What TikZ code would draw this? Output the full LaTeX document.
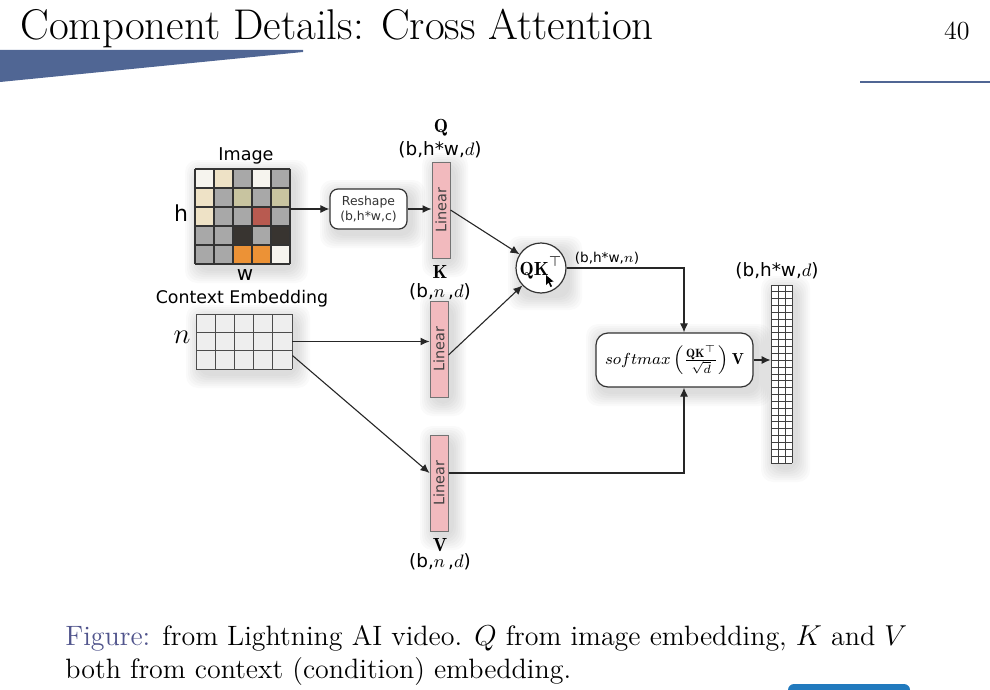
\documentclass[tikz,border=0pt]{standalone}
\usepackage{fontspec}
\usepackage{amsmath}
\usepackage{graphicx}
\newfontfamily\dv{DejaVu Sans}
\usetikzlibrary{arrows.meta,calc}
\definecolor{deco}{RGB}{80,102,148}
\definecolor{btnblue}{RGB}{33,122,190}
\definecolor{figblue}{RGB}{80,84,140}
\definecolor{linpink}{RGB}{242,186,190}
\definecolor{cW}{RGB}{246,244,238}
\definecolor{cB}{RGB}{238,226,198}
\definecolor{cG}{RGB}{168,168,168}
\definecolor{cO}{RGB}{200,196,160}
\definecolor{cR}{RGB}{184,90,80}
\definecolor{cD}{RGB}{56,52,48}
\definecolor{cA}{RGB}{236,146,54}
\definecolor{ctxfill}{RGB}{238,238,238}
\newcommand{\softshade}[4]{%
  \foreach \e in {2,4,...,14}{
    \fill[black, opacity=0.018, rounded corners=6pt] (#1+4-\e,#2+5-\e) rectangle (#3+4+\e,#4+5+\e);
  }}
\begin{document}
\begin{tikzpicture}[x=0.5pt,y=-0.5pt,
  >={Latex[length=4.5pt,width=4pt]},
  sans/.style={font={\dv\fontsize{#1pt}{#1pt}\selectfont}, inner sep=0},
  serif/.style={font={\fontsize{#1pt}{#1pt}\selectfont}, inner sep=0},
  conn/.style={->, line width=0.55pt, black!85},
  lin/.style={draw=black!55, line width=0.5pt, fill=linpink, minimum width=9pt, minimum height=48pt, inner sep=0, text=black!75, font={\dv\fontsize{7.2pt}{7.2pt}\selectfont}},
  box/.style={draw=black!80, line width=0.6pt, fill=white, rounded corners=#1, inner sep=0}
]
\useasboundingbox (0,0) rectangle (990,690);

% ---- slide decoration ----
\fill[deco] (0,50) -- (303,50) -- (303,52) -- (0,82) -- cycle;
\fill[deco] (860,81) rectangle (990,83);
\fill[btnblue, rounded corners=3pt] (788,684) rectangle (910,700);
\node[serif=21.5, anchor=base west] (title) at (20,40) {Component Details: Cross Attention};
\node[serif=13, anchor=base east] (pnum) at (970,40) {40};

% ---- soft shadows ----
\softshade{195}{169}{290}{264}
\softshade{196}{314}{292}{369}
\softshade{330}{189}{407}{229}
\softshade{596}{333}{753}{387}
\softshade{432}{162}{450}{258}
\softshade{430}{301}{448}{397}
\softshade{430}{435}{448}{531}
\softshade{771}{285}{792}{463}
\softshade{518}{245}{564}{291}

% ---- image grid ----
\node[minimum width=47.5pt, minimum height=47.5pt, inner sep=0] (img) at (242.5,216.5) {};
\foreach \row [count=\r from 0] in {{cW,cB,cG,cW,cG},{cB,cG,cO,cG,cO},{cB,cG,cG,cR,cG},{cG,cG,cD,cG,cD},{cG,cG,cA,cA,cW}}{
  \foreach \c [count=\i from 0] in \row {
    \fill[\c] (195+\i*19,169+\r*19) rectangle ++(19,19);
  }
}
\foreach \k in {0,...,5}{
  \draw[line width=0.8pt, black!80] (195+\k*19,169) -- ++(0,95);
  \draw[line width=0.8pt, black!80] (195,169+\k*19) -- ++(95,0);
}
\node[sans=8.8] (imglbl) at (246,156) {Image};
\node[sans=11] (hlbl) at (181,213) {h};
\node[sans=10] (wlbl) at (245,275) {w};

% ---- context embedding grid ----
\node[minimum width=48pt, minimum height=27.5pt, inner sep=0] (ctx) at (244,341.5) {};
\fill[ctxfill] (196,314) rectangle (292,369);
\foreach \k in {0,...,5}{
  \draw[line width=0.5pt, black!70] (196+\k*19.2,314) -- ++(0,55);
}
\foreach \k in {0,...,3}{
  \draw[line width=0.5pt, black!70] (196,314+\k*18.333) -- ++(96,0);
}
\node[sans=8.7] (ctxlbl) at (242,299) {Context Embedding};
\node[serif=14] (nlbl) at (182,337) {$n$};

% ---- reshape ----
\node[box=4pt, minimum width=38.5pt, minimum height=20pt, align=center, font={\dv\fontsize{6.2pt}{7.6pt}\selectfont}, text=black!80] (reshape) at (368.5,209) {Reshape\\(b,h*w,c)};

% ---- linear layers ----
\node[lin] (lq) at (441,210) {\rotatebox{90}{Linear}};
\node[lin] (lk) at (439,349) {\rotatebox{90}{Linear}};
\node[lin] (lv) at (439,483) {\rotatebox{90}{Linear}};

\node[serif=9.5] (qlbl) at (441,128) {$\mathbf{Q}$};
\node[sans=9.2] (qdim) at (440,150) {(b,h*w,$d$)};
\node[serif=9.5] (klbl) at (440,272) {$\mathbf{K}$};
\node[sans=9.2] (kdim) at (440,292) {(b,$n$\,,$d$)};
\node[serif=9.5] (vlbl) at (440,545) {$\mathbf{V}$};
\node[sans=9.2] (vdim) at (440,562) {(b,$n$\,,$d$)};

% ---- QK^T circle ----
\node[draw=black!80, line width=0.6pt, fill=white, circle, minimum size=25pt, inner sep=0, font={\fontsize{9.5pt}{9.5pt}\selectfont}] (circ) at (541,268) {$\mathbf{QK}^{\top}$};
\fill[black] (546,275) -- (546,285) -- (548.5,282.5) -- (550.5,287) -- (552,286.3) -- (550,282) -- (553.5,281.5) -- cycle;
\node[sans=6.8] (sdim) at (607,258) {(b,h*w,$n$)};

% ---- softmax box ----
\node[box=6pt, minimum width=78.5pt, minimum height=27pt, font={\fontsize{8pt}{8pt}\selectfont}] (smax) at (674.5,360) {$softmax\left(\frac{\mathbf{QK}^{\top}}{\sqrt{d}}\right)\mathbf{V}$};

% ---- output grid ----
\node[minimum width=10.5pt, minimum height=89pt, inner sep=0] (out) at (781.5,374) {};
\fill[white] (771,285) rectangle (792,463);
\foreach \k in {0,...,3}{
  \draw[line width=0.45pt, black!75] (771+\k*7,285) -- ++(0,178);
}
\foreach \k in {0,...,26}{
  \draw[line width=0.45pt, black!75] (771,285+\k*6.846) -- ++(21,0);
}
\node[sans=9.2] (odim) at (777,271) {(b,h*w,$d$)};

% ---- connectors ----
\draw[conn] (reshape.west -| img.east) -- (reshape.west);
\draw[conn] (reshape.east) -- (reshape.east -| lq.west);
\draw[conn] (lq.east) -- (circ);
\draw[conn] ([yshift=-3pt]lk.east) -- (circ);
\draw[conn] (ctx.east) -- (ctx.east -| lk.west);
\draw[conn] ([yshift=-7pt]ctx.east) -- ([yshift=5pt]lv.west);
\draw[conn] (circ.east) -| ($(smax.north)+(9.5,0)$);
\draw[conn] ([yshift=5pt]lv.east) -| ($(smax.south)+(9.5,0)$);
\draw[conn] (smax.east) -- (smax.east -| out.west);

% ---- caption ----
\node[serif=14, anchor=base west] (cap1) at (65,645) {\textcolor{figblue}{Figure:} from Lightning AI video. $Q$ from image embedding, $K$ and $V$};
\node[serif=14, anchor=base west] (cap2) at (65,678) {both from context (condition) embedding.};
\end{tikzpicture}
\end{document}
